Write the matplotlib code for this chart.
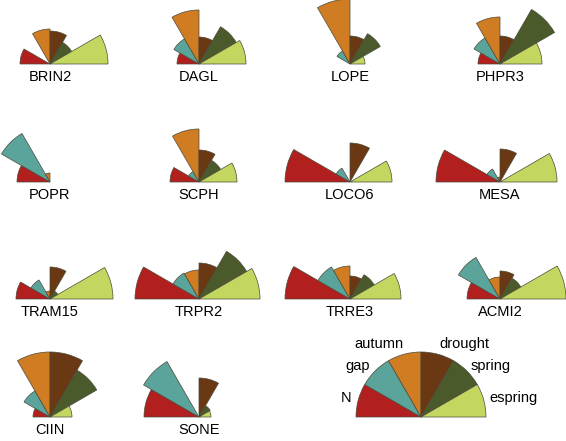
import matplotlib
matplotlib.use("Agg")
import matplotlib.pyplot as plt
from matplotlib.patches import Wedge

plt.rcParams['font.family'] = ['Liberation Sans', 'DejaVu Sans']

# categories, from left (180 deg) to right (0 deg)
categories = ['N', 'gap', 'autumn', 'drought', 'spring', 'espring']
colors = ['#B21F1F', '#5BA49B', '#CF7C22', '#6A3812', '#4A5A2B', '#C3D65F']

species = ['BRIN2', 'DAGL', 'LOPE', 'PHPR3',
           'POPR', 'SCPH', 'LOCO6', 'MESA',
           'TRAM15', 'TRPR2', 'TRRE3', 'ACMI2',
           'CIIN', 'SONE']

# wedge sizes per species, order N, gap, autumn, drought, spring, espring
brin2 = [30, 0, 35, 33, 25, 58]
dagl = [22, 29, 54, 27, 43, 47]
lope = [0, 15, 65, 28, 35, 15]
phpr3 = [22, 30, 47, 28, 63, 42]
popr = [33, 56, 9, 0, 0, 0]
scph = [29, 12, 53, 32, 25, 38]
loco6 = [65, 16, 0, 39, 0, 42]
mesa = [64, 15, 5, 33, 0, 57]
tram15 = [34, 22, 8, 32, 9, 63]
trpr2 = [64, 30, 29, 36, 55, 61]
trre3 = [65, 37, 33, 23, 28, 51]
acmi2 = [33, 48, 22, 28, 24, 66]
ciin = [17, 30, 65, 65, 54, 22]
sone = [55, 64, 0, 39, 13, 12]
key_sizes = [65, 65, 65, 65, 65, 65]

values = [brin2, dagl, lope, phpr3, popr, scph, loco6, mesa,
          tram15, trpr2, trre3, acmi2, ciin, sone]

W, H = 566, 441
fig = plt.figure(figsize=(W / 100, H / 100), dpi=100)
ax = fig.add_axes([0, 0, 1, 1])
ax.set_xlim(0, W)
ax.set_ylim(0, H)
ax.set_aspect('equal')
ax.axis('off')

col_x = [50, 199, 350, 500]
row_y = [64, 182, 299, 417]


def rose(cx, cy, sizes):
    for i, (r, c) in enumerate(zip(sizes, colors)):
        if r <= 0:
            continue
        t2 = 180 - 30 * i
        t1 = t2 - 30
        ax.add_patch(Wedge((cx, H - cy), r, t1, t2, facecolor=c,
                           edgecolor='#4a4a3a', linewidth=0.5))


for k, (name, sizes) in enumerate(zip(species, values)):
    cx = col_x[k % 4]
    cy = row_y[k // 4]
    rose(cx, cy, sizes)
    ax.text(cx, H - cy - 13, name, ha='center', va='center', fontsize=10.5)

# key
kx, ky = 421, 417
rose(kx, ky, key_sizes)
key_pos = [(346, 398), (358, 366), (379, 344), (464, 344), (491, 366), (514, 398)]
for lab, (x, y) in zip(categories, key_pos):
    ax.text(x, H - y, lab, ha='center', va='center', fontsize=10.5)

fig.savefig('out.png', dpi=100)
